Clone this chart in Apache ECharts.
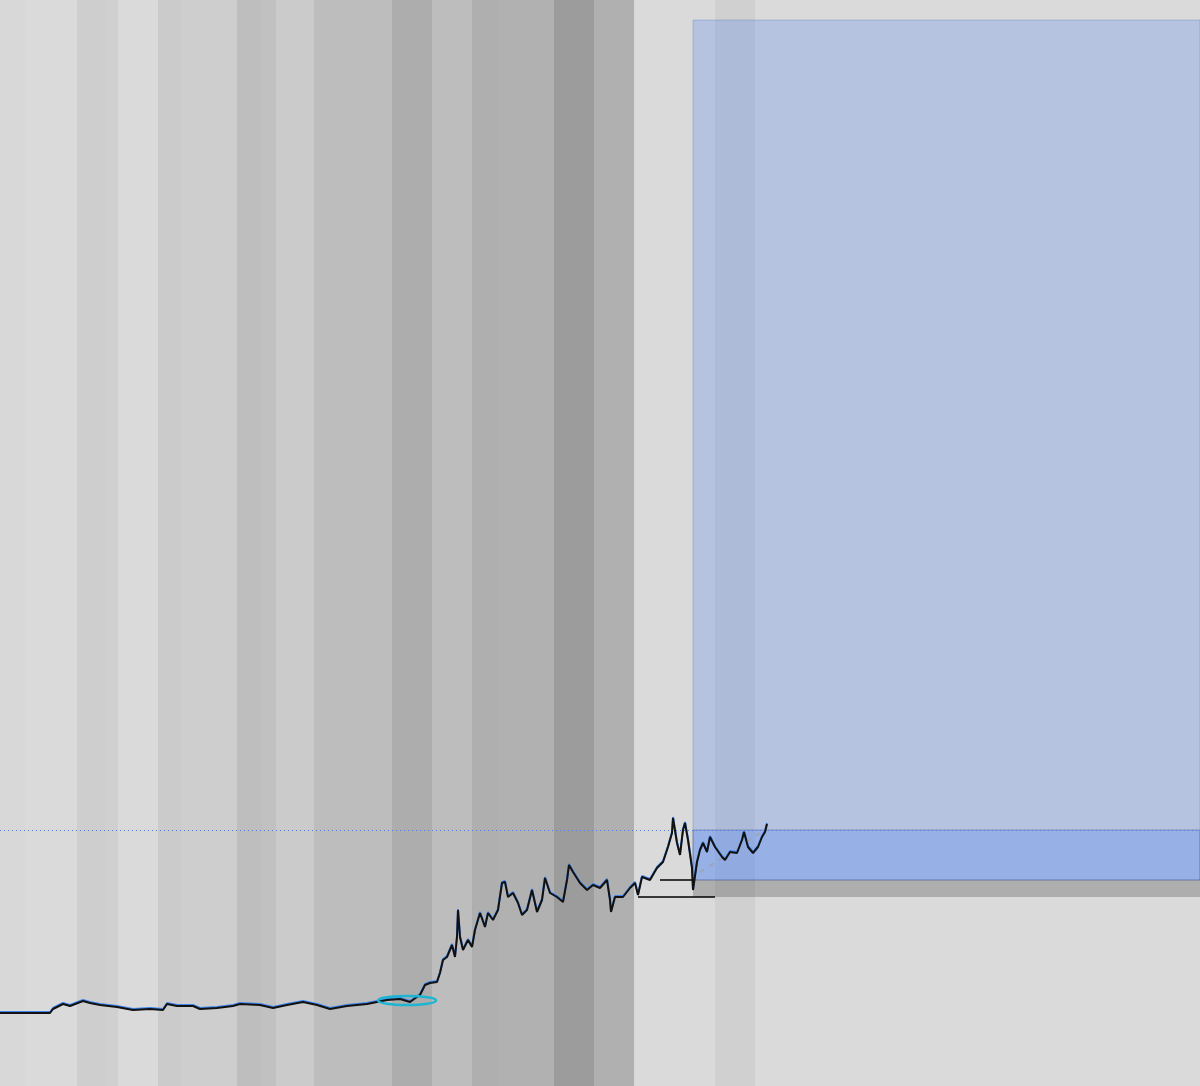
<!DOCTYPE html>
<html>
<head>
<meta charset="utf-8">
<script src="https://cdn.jsdelivr.net/npm/echarts@6/dist/echarts.min.js"></script>
<style>
html,body{margin:0;padding:0;background:#dadada;}
#chart{width:1200px;height:1086px;}
</style>
</head>
<body>
<div id="chart"></div>
<script>
// bar index (x) and price (y)
const barIndex = [0,50,53,63,70,83,90,100,117,133,150,163,167,177,193,200,217,233,240,260,273,287,303,317,330,347,367,377,387,400,410,417,420,425,430,437,440,443,447,452,455,457,458,460,463,468,472,475,480,485,488,493,498,502,505,508,513,518,522,527,532,537,542,545,550,557,563,567,569,573,580,587,593,600,607,610,611,615,623,630,635,638,642,650,657,663,668,672,673,677,680,683,685,688,692,693,697,700,703,707,710,715,722,725,730,737,742,744,748,753,758,762,765,767];
const price = [73,73,77,82,80,85,83,81,79,76,77,76,82,80,80,77,78,80,82,81,78,81,84,81,77,80,82,84,86,87,84,89,91,101,103,104,113,126,129,141,129,149,176,149,136,146,139,156,173,159,173,166,176,203,204,189,193,183,171,176,196,174,186,208,193,189,184,206,221,214,203,196,201,198,206,186,174,189,189,198,203,191,209,206,218,224,239,253,268,243,231,256,263,246,218,196,224,236,243,234,249,239,229,226,234,233,246,254,239,233,239,249,254,262];

// background session bands: [start, end]
const bandStart = [0,25,77,106,118,158,182,237,262,276,314,392,432,472,499,554,594,634,715,755];
const bandEnd   = [25,77,106,118,158,182,237,262,276,314,392,432,472,499,554,594,634,715,755,1200];
const bandColor = ['#d8d8d8','#dadada','#cecece','#d0d0d0','#dadada','#cbcbcb','#cecece','#bebebe','#c1c1c1','#cbcbcb','#bdbdbd','#adadad','#bdbdbd','#afafaf','#b1b1b1','#9c9c9c','#b0b0b0','#dadada','#d0d0d0','#dadada'];

// zones / levels
const zoneOuter = {x0:693, x1:1200, y0:206, y1:1066};
const zoneInner = {x0:693, x1:1200, y0:206, y1:256};
const zoneLow   = {x0:693, x1:1200, y0:189, y1:206};
const dottedLevel = 256;
const blackLevels = [[660,693,206],[638,715,189]];
const dashedTrend = [[700,214],[765,256]];
const ellipseMark = [[407,85.5,29,4.5]];

const chart = echarts.init(document.getElementById('chart'), null, {renderer:'canvas'});

const bandAreas = bandStart.map((s,i)=>[
  {xAxis:s, yAxis:0, itemStyle:{color:bandColor[i], opacity:1}},
  {xAxis:bandEnd[i], yAxis:1086}
]);

const option = {
  backgroundColor:'#dadada',
  animation:false,
  grid:{left:0,right:0,top:0,bottom:0},
  xAxis:{type:'value',min:0,max:1200,show:false},
  yAxis:{type:'value',min:0,max:1086,show:false},
  series:[
    {
      type:'scatter', data:[], z:1, silent:true,
      markArea:{silent:true, data:bandAreas}
    },
    {
      type:'scatter', data:[], z:2, silent:true,
      markArea:{silent:true, data:[
        [{xAxis:zoneLow.x0,yAxis:zoneLow.y0,itemStyle:{color:'rgba(0,0,0,0.2)'}},{xAxis:zoneLow.x1,yAxis:zoneLow.y1}],
        [{xAxis:zoneOuter.x0,yAxis:zoneOuter.y0,itemStyle:{color:'rgba(33,103,255,0.2)',borderColor:'rgba(60,100,200,0.25)',borderWidth:1}},{xAxis:zoneOuter.x1,yAxis:zoneOuter.y1}],
        [{xAxis:zoneInner.x0,yAxis:zoneInner.y0,itemStyle:{color:'rgba(33,103,255,0.2)',borderColor:'rgba(80,85,110,0.45)',borderWidth:1}},{xAxis:zoneInner.x1,yAxis:zoneInner.y1}]
      ]}
    },
    {
      type:'line', z:4, symbol:'none', silent:true,
      data:barIndex.map((x,i)=>[x,price[i]+1]),
      lineStyle:{color:'#3d86f0',width:2}
    },
    {
      type:'line', z:5, symbol:'none', silent:true,
      data:barIndex.map((x,i)=>[x,price[i]]),
      lineStyle:{color:'#111',width:2}
    },
    {
      type:'scatter', data:[], z:6, silent:true,
      markLine:{
        silent:true, symbol:['none','none'], animation:false,
        label:{show:false},
        data:[
          [{coord:[0,dottedLevel],lineStyle:{color:'#4d7fe0',type:[1,3],width:1}},{coord:[1200,dottedLevel]}],
          [{coord:[blackLevels[0][0],blackLevels[0][2]],lineStyle:{color:'#000',type:'solid',width:1.5}},{coord:[blackLevels[0][1],blackLevels[0][2]]}],
          [{coord:[blackLevels[1][0],blackLevels[1][2]],lineStyle:{color:'#000',type:'solid',width:1.5}},{coord:[blackLevels[1][1],blackLevels[1][2]]}],
          [{coord:dashedTrend[0],lineStyle:{color:'#a0a0a8',type:[5,6],width:1.5}},{coord:dashedTrend[1]}]
        ]
      }
    },
    {
      type:'custom', z:7, silent:true,
      data:ellipseMark,
      renderItem:function(params, api){
        const c = api.coord([api.value(0), api.value(1)]);
        const s = api.size([api.value(2), api.value(3)]);
        return {
          type:'ellipse',
          shape:{cx:c[0], cy:c[1], rx:s[0], ry:s[1]},
          style:{fill:null, stroke:'#1cb6d2', lineWidth:2.5}
        };
      }
    }
  ]
};
chart.setOption(option);
</script>
</body>
</html>
